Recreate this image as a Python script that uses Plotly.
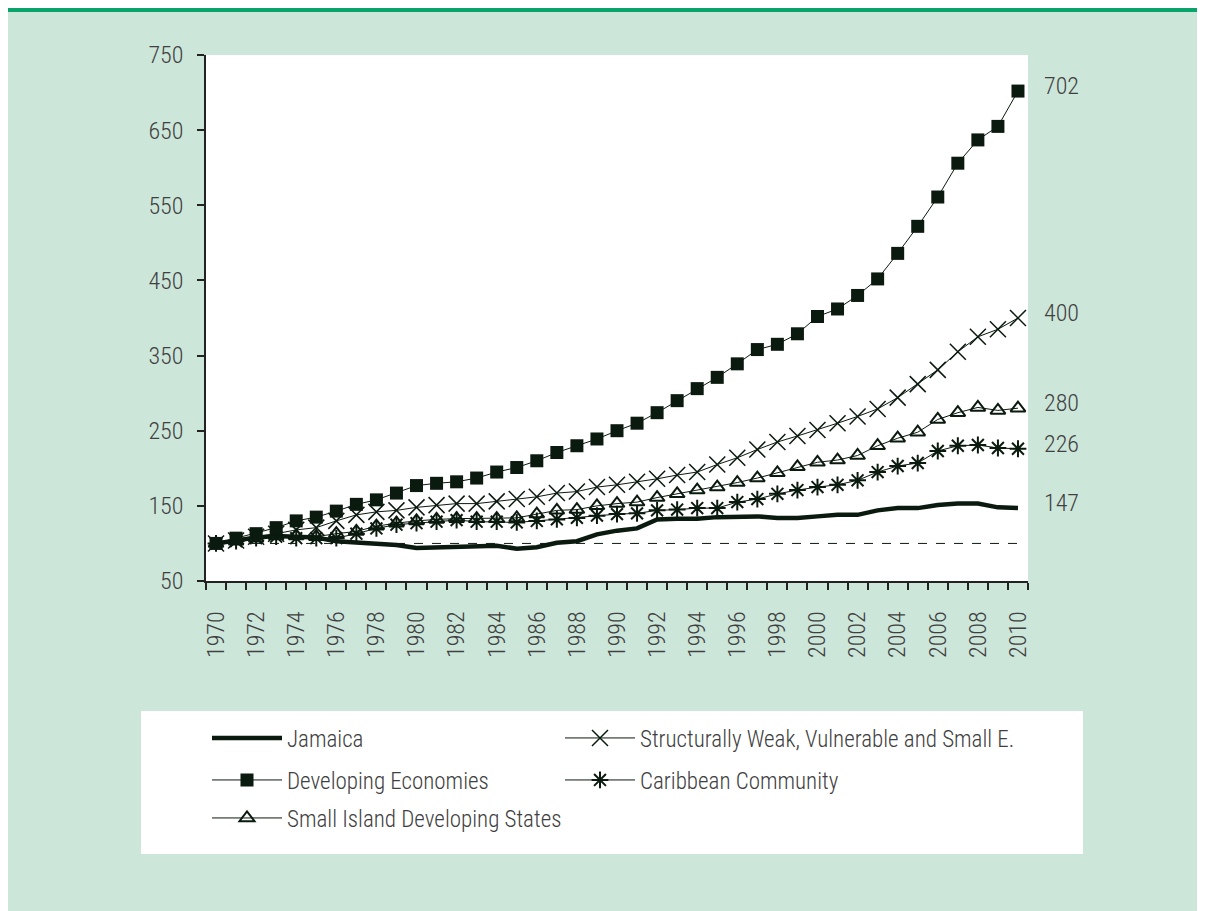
import plotly.graph_objects as go

YEARS = list(range(1970, 2011))

JAMAICA = [100, 104, 108, 110, 109, 108, 103, 101, 100, 98, 94, 95, 95, 97, 97, 93, 95,
           101, 103, 112, 117, 120, 132, 133, 133, 135, 136, 136, 134, 134, 136, 138, 138,
           144, 147, 147, 151, 153, 153, 148, 147]
DEVELOPING = [100, 107, 113, 121, 130, 135, 143, 152, 158, 167, 177, 180, 182, 187, 195, 201,
              210, 221, 230, 239, 250, 260, 274, 290, 306, 321, 339, 358, 365, 379, 402, 412,
              430, 452, 486, 522, 561, 606, 637, 655, 702]
SWVSE = [100, 104, 109, 113, 118, 121, 130, 138, 142, 144, 148, 151, 153, 153, 156, 159, 162,
         167, 169, 175, 178, 182, 186, 191, 195, 205, 214, 225, 235, 243, 251, 260, 269, 279,
         294, 312, 331, 355, 375, 385, 400]
SIDS = [100, 103, 107, 110, 110, 109, 113, 116, 123, 127, 130, 132, 133, 133, 133, 134, 139,
        144, 145, 150, 153, 155, 161, 166, 171, 175, 181, 187, 194, 202, 208, 211, 217, 230,
        240, 248, 265, 274, 281, 277, 280]
CARICOM = [100, 103, 107, 109, 107, 107, 107, 113, 120, 125, 127, 129, 131, 129, 129, 128, 130,
           132, 134, 137, 139, 140, 144, 145, 147, 147, 155, 159, 166, 171, 175, 178, 184, 195,
           203, 207, 223, 230, 231, 227, 226]
BASE = 100

# figure geometry (px, figure sits 8px in from the page corner)
W, H = 1197, 903
L, R, T, B = 198, 177, 47, 330
PW, PH = W - L - R, H - T - B

DARK = "#0b1a0f"
TXT = "#404040"
FONT = "Roboto Condensed, DejaVu Sans Condensed, Liberation Sans Narrow, sans-serif"


def px(x):
    return (x - L) / PW


def py(y):
    return (H - B - y) / PH


fig = go.Figure()

fig.add_trace(go.Scatter(
    x=[YEARS[0], YEARS[-1]], y=[BASE, BASE], mode="lines",
    line=dict(color=DARK, width=1, dash="dash"), showlegend=False, hoverinfo="skip"))

fig.add_trace(go.Scatter(
    x=YEARS, y=JAMAICA, name="Jamaica", mode="lines",
    line=dict(color=DARK, width=4.5), legend="legend"))
fig.add_trace(go.Scatter(
    x=YEARS, y=SIDS, name="Small Island Developing States", mode="lines+markers",
    line=dict(color=DARK, width=1),
    marker=dict(symbol="triangle-up-open", size=13, color=DARK, line=dict(width=2, color=DARK)),
    legend="legend5"))
fig.add_trace(go.Scatter(
    x=YEARS, y=CARICOM, name="Caribbean Community", mode="lines+markers",
    line=dict(color=DARK, width=1),
    marker=dict(symbol="asterisk-open", size=14, color=DARK, line=dict(width=2, color=DARK)),
    legend="legend4"))
fig.add_trace(go.Scatter(
    x=YEARS, y=SWVSE, name="Structurally Weak, Vulnerable and Small E.", mode="lines+markers",
    line=dict(color=DARK, width=1),
    marker=dict(symbol="x-thin-open", size=16, color=DARK, line=dict(width=1.5, color=DARK)),
    legend="legend2"))
fig.add_trace(go.Scatter(
    x=YEARS, y=DEVELOPING, name="Developing Economies", mode="lines+markers",
    line=dict(color=DARK, width=1),
    marker=dict(symbol="square", size=13, color=DARK),
    legend="legend3"))

# end-value labels on the right
for series in [DEVELOPING, SWVSE, SIDS, CARICOM, JAMAICA]:
    fig.add_annotation(x=YEARS[-1], y=series[-1], text=str(series[-1]), showarrow=False,
                       xanchor="left", xshift=24, yshift=5,
                       font=dict(family=FONT, size=24, color=TXT, weight=300))

shapes = [
    dict(type="rect", xref="paper", yref="paper", x0=px(0), x1=px(W), y0=py(4), y1=py(0),
         fillcolor="#0aa36c", line_width=0, layer="below"),
    dict(type="rect", xref="paper", yref="paper", x0=px(133), x1=px(1075), y0=py(846), y1=py(703),
         fillcolor="white", line_width=0, layer="below"),
]

legfont = dict(family=FONT, size=23, color=TXT, weight=300)


def leg(x, y):
    return dict(orientation="h", bgcolor="rgba(0,0,0,0)", xanchor="left", yanchor="middle",
                itemwidth=70, x=px(x), y=py(y), font=legfont)


tickfont = dict(family=FONT, size=24, color=TXT, weight=300)

fig.update_layout(
    width=W, height=H,
    margin=dict(l=L, r=R, t=T, b=B),
    paper_bgcolor="#cde6da",
    plot_bgcolor="white",
    font=dict(family=FONT, size=24, color=TXT, weight=300),
    shapes=shapes,
    legend=leg(199, 730),
    legend2=leg(552, 730),
    legend3=leg(199, 772),
    legend4=leg(552, 772),
    legend5=leg(199, 810),
    xaxis=dict(
        range=[YEARS[0] - 0.5, YEARS[-1] + 0.5],
        tickvals=YEARS[::2], tickangle=-90,
        ticks="outside", ticklen=19, tickcolor="rgba(0,0,0,0)",
        minor=dict(tickvals=[y - 0.5 for y in YEARS] + [YEARS[-1] + 0.5],
                   ticks="outside", ticklen=7, tickcolor="#222", tickwidth=1.5),
        showline=True, linecolor="#222", linewidth=1.5,
        showgrid=False, zeroline=False,
        tickfont=tickfont,
    ),
    yaxis=dict(
        range=[50, 750], tickvals=[50, 150, 250, 350, 450, 550, 650, 750],
        ticks="outside", ticklen=7, tickcolor="#222", tickwidth=1.5,
        ticklabelstandoff=9,
        showline=True, linecolor="#222", linewidth=1.5,
        showgrid=False, zeroline=False,
        tickfont=tickfont,
    ),
)

fig.write_html("out.html")
